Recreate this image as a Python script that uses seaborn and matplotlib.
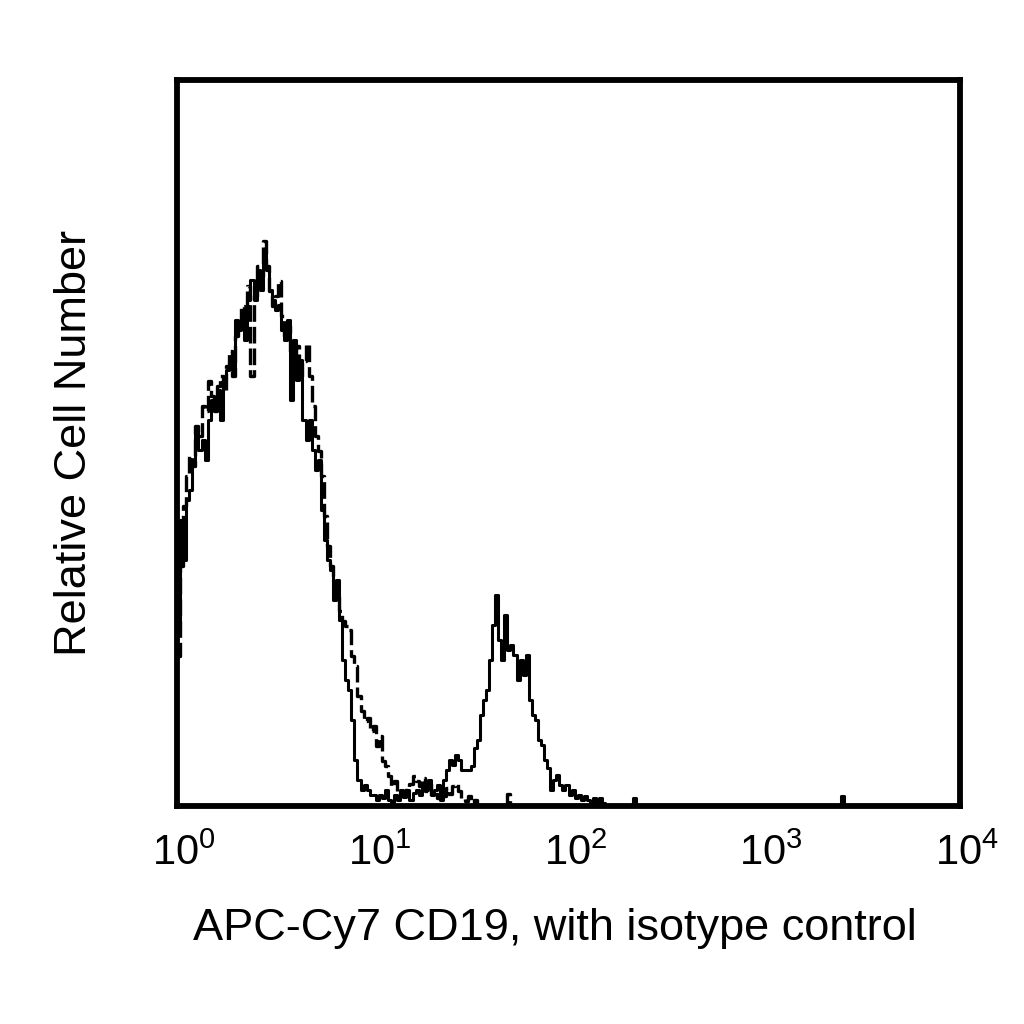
import numpy as np
import pandas as pd
import seaborn as sns
import matplotlib
matplotlib.use('Agg')
import matplotlib.pyplot as plt
from matplotlib.transforms import ScaledTranslation

# 256 channels over 4 decades (64 per decade), counts
channels_per_decade = 64

stained_counts = [
    176, 286, 246, 306, 316, 346, 376, 356, 366, 346,
    386, 406, 396, 416, 386, 426, 436, 446, 436, 486,
    476, 496, 466, 506, 526, 506, 536, 516, 556, 536,
    516, 506, 496, 501, 476, 466, 486, 406, 466, 426,
    446, 386, 366, 386, 356, 336, 346, 296, 266, 246,
    236, 206, 226, 186, 146, 126, 116, 86, 46, 26,
    16, 21, 16, 11, 11, 6, 11, 8, 16, 6,
    3, 11, 6, 16, 9, 16, 6, 13, 16, 11,
    21, 16, 26, 11, 16, 21, 6, 26, 36, 46,
    41, 51, 46, 36, 36, 36, 40, 58, 66, 91,
    106, 116, 146, 181, 211, 166, 146, 191, 156, 161,
    151, 126, 146, 131, 151, 106, 91, 86, 66, 61,
    46, 38, 16, 26, 31, 21, 16, 21, 11, 16,
    8, 11, 6, 10, 6, 3, 8, 3, 8, 3,
]
stained_spike_channels = [149, 217]
stained_spike_counts = [8, 10]

isotype_counts = [
    150, 240, 300, 330, 350, 340, 380, 370, 400, 395,
    425, 410, 395, 420, 430, 415, 440, 455, 430, 470,
    480, 500, 490, 520, 430, 510, 540, 530, 565, 540,
    515, 500, 510, 525, 490, 470, 480, 455, 440, 460,
    430, 445, 462, 430, 400, 370, 355, 330, 290, 260,
    240, 225, 210, 195, 185, 180, 176, 150, 140, 110,
    95, 85, 88, 75, 80, 60, 70, 45, 40, 30,
    20, 25, 15, 12, 10, 18, 22, 30, 25, 20,
    28, 15, 22, 10, 12, 8, 15, 10, 18, 12,
    20, 22, 15, 8, 5, 10, 3, 6,
]
isotype_spike_channels = [108]
isotype_spike_counts = [12]

tick_values = [1, 10, 100, 1000, 10000]
tick_labels = [r'$\mathregular{10^{0}}$', r'$\mathregular{10^{1}}$',
               r'$\mathregular{10^{2}}$', r'$\mathregular{10^{3}}$',
               r'$\mathregular{10^{4}}$']


def to_frame(counts, spike_channels, spike_counts):
    ch = np.array(list(range(len(counts))) + list(spike_channels))
    w = list(counts) + list(spike_counts)
    return pd.DataFrame({
        "intensity": 10 ** ((ch + 0.5) / channels_per_decade),
        "count": w,
    })


stained = to_frame(stained_counts, stained_spike_channels, stained_spike_counts)
isotype = to_frame(isotype_counts, isotype_spike_channels, isotype_spike_counts)

sns.set_style("white")
plt.rcParams['font.family'] = ['Liberation Sans', 'DejaVu Sans']
plt.rcParams['mathtext.fontset'] = 'custom'
plt.rcParams['mathtext.rm'] = 'Liberation Sans'
plt.rcParams['text.color'] = 'black'
plt.rcParams['xtick.color'] = 'black'
plt.rcParams['axes.labelcolor'] = 'black'

fig = plt.figure(figsize=(10.24, 10.24), dpi=100)
ax = fig.add_axes([0.1729, 0.2129, 0.7646, 0.709])

common = dict(x="intensity", weights="count", binwidth=1 / channels_per_decade,
              binrange=(0, 4), log_scale=True, element="step", fill=False,
              color="black", ax=ax)
sns.histplot(data=isotype, linewidth=2.4, linestyle=(0, (5, 1.5)), **common)
sns.histplot(data=stained, linewidth=2.2, **common)

ax.set_xlim(1, 10000)
ax.set_ylim(0, 726)
ax.set_xticks(tick_values)
ax.set_xticklabels(tick_labels)
ax.minorticks_off()
ax.set_yticks([])
ax.tick_params(axis="x", length=0, pad=20, labelsize=30)
for lab in ax.get_xticklabels():
    lab.set_transform(lab.get_transform() + ScaledTranslation(0.07, 0, fig.dpi_scale_trans))
ax.set_xlabel("APC-Cy7 CD19, with isotype control", fontsize=32.5, labelpad=24)
ax.xaxis.label.set_x(0.483)
ax.set_ylabel("Relative Cell Number", fontsize=32.5, labelpad=59)
for s in ax.spines.values():
    s.set_visible(True)
    s.set_linewidth(4.2)
    s.set_color("black")

fig.savefig("out.png", dpi=100)
